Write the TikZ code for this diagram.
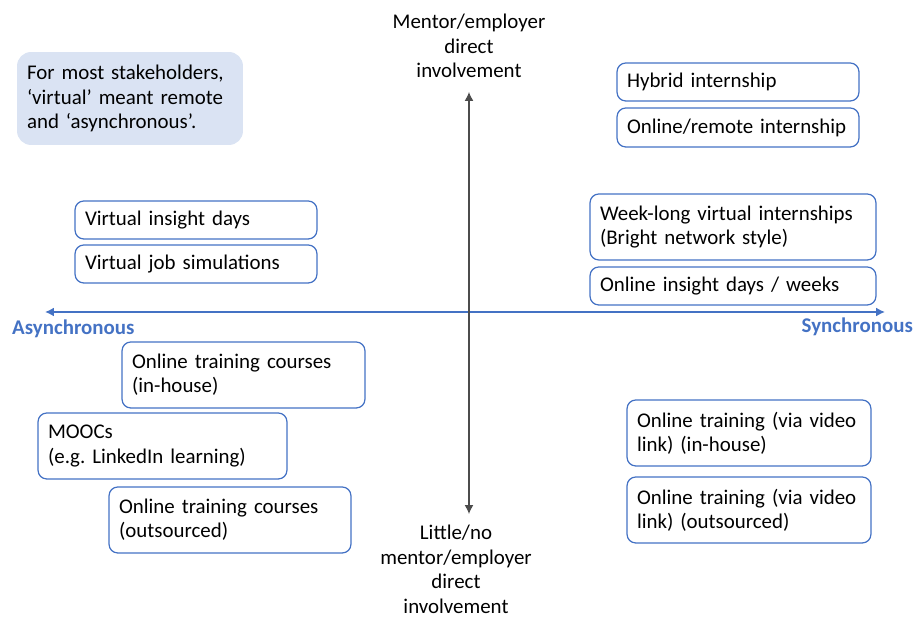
\documentclass[tikz,border=0pt]{standalone}
\usepackage{fontspec}
\setmainfont{Carlito}
\usetikzlibrary{positioning}
\usetikzlibrary{arrows.meta}

\definecolor{axisblue}{HTML}{4472C4}
\definecolor{noteblue}{HTML}{DAE3F3}

\tikzset{
    entry/.style={draw=axisblue, line width=0.7pt, rounded corners=5pt, align=left, inner xsep=0.2cm, inner ysep=0pt, font=\fontsize{11.9}{13.7}\selectfont},
    axislabel/.style={font=\fontsize{11.9}{13.7}\selectfont\bfseries, text=axisblue},
    polelabel/.style={align=center, font=\fontsize{11.9}{14}\selectfont}
}

\begin{document}
\frenchspacing
\begin{tikzpicture}[x=0.02cm, y=-0.02cm]
    \useasboundingbox (0,0) rectangle (914,617);
    %note
    \node[fill=noteblue, rounded corners=8pt, minimum width=4.52cm, minimum height=1.86cm, text width=4.12cm, align=left, font=\fontsize{11.9}{13.7}\selectfont] at (130,98.5) (note) {For most stakeholders, `virtual' meant remote and `asynchronous'.};
    %axes
    \coordinate (west) at (45,312);
    \coordinate (east) at (885,312);
    \coordinate (north) at (469,92);
    \coordinate (south) at (469,514);
    \draw[axisblue, line width=0.9pt, {Latex[length=5pt,width=5pt]}-{Latex[length=5pt,width=5pt]}] (west) -- (east);
    \draw[black!70, line width=0.7pt, {Latex[length=5pt,width=5pt]}-{Latex[length=5pt,width=5pt]}] (north) -- (south);
    \node[axislabel, anchor=west] at (6,329) (async) {Asynchronous};
    \node[axislabel, anchor=east] at (919,327) (sync) {Synchronous};
    \node[polelabel, anchor=south] at (469,84) (top) {Mentor/employer\\direct\\involvement};
    \node[polelabel, anchor=north] at (456,519) (bottom) {Little/no\\mentor/employer\\direct\\involvement};
    %upper right
    \node[entry, minimum width=4.84cm, text width=4.44cm, minimum height=0.76cm] at (738,82) (hybrid) {Hybrid internship};
    \node[entry, minimum width=4.84cm, text width=4.44cm, minimum height=0.78cm] at (738,127.5) (remote) {Online/remote internship};
    \node[entry, minimum width=5.72cm, text width=5.32cm, minimum height=1.32cm] at (733,227) (weeklong) {Week-long virtual internships\\(Bright network style)};
    \node[entry, minimum width=5.72cm, text width=5.32cm, minimum height=0.76cm] at (733,286) (insightweeks) {Online insight days / weeks};
    %upper left
    \node[entry, minimum width=4.84cm, text width=4.44cm, minimum height=0.76cm] at (196,220) (insightdays) {Virtual insight days};
    \node[entry, minimum width=4.84cm, text width=4.44cm, minimum height=0.76cm] at (196,264) (jobsim) {Virtual job simulations};
    %lower left
    \node[entry, minimum width=4.86cm, text width=4.46cm, minimum height=1.32cm] at (243.5,375) (inhouse) {Online training courses\\(in-house)};
    \node[entry, minimum width=4.98cm, text width=4.58cm, minimum height=1.32cm] at (162.5,446) (moocs) {MOOCs\\(e.g. LinkedIn learning)};
    \node[entry, minimum width=4.84cm, text width=4.44cm, minimum height=1.32cm] at (230,520) (outsourced) {Online training courses\\(outsourced)};
    %lower right
    \node[entry, minimum width=4.88cm, text width=4.48cm, minimum height=1.32cm] at (749,433) (videoinhouse) {Online training (via video\\link) (in-house)};
    \node[entry, minimum width=4.88cm, text width=4.48cm, minimum height=1.32cm] at (749,510) (videooutsourced) {Online training (via video\\link) (outsourced)};
\end{tikzpicture}
\end{document}
